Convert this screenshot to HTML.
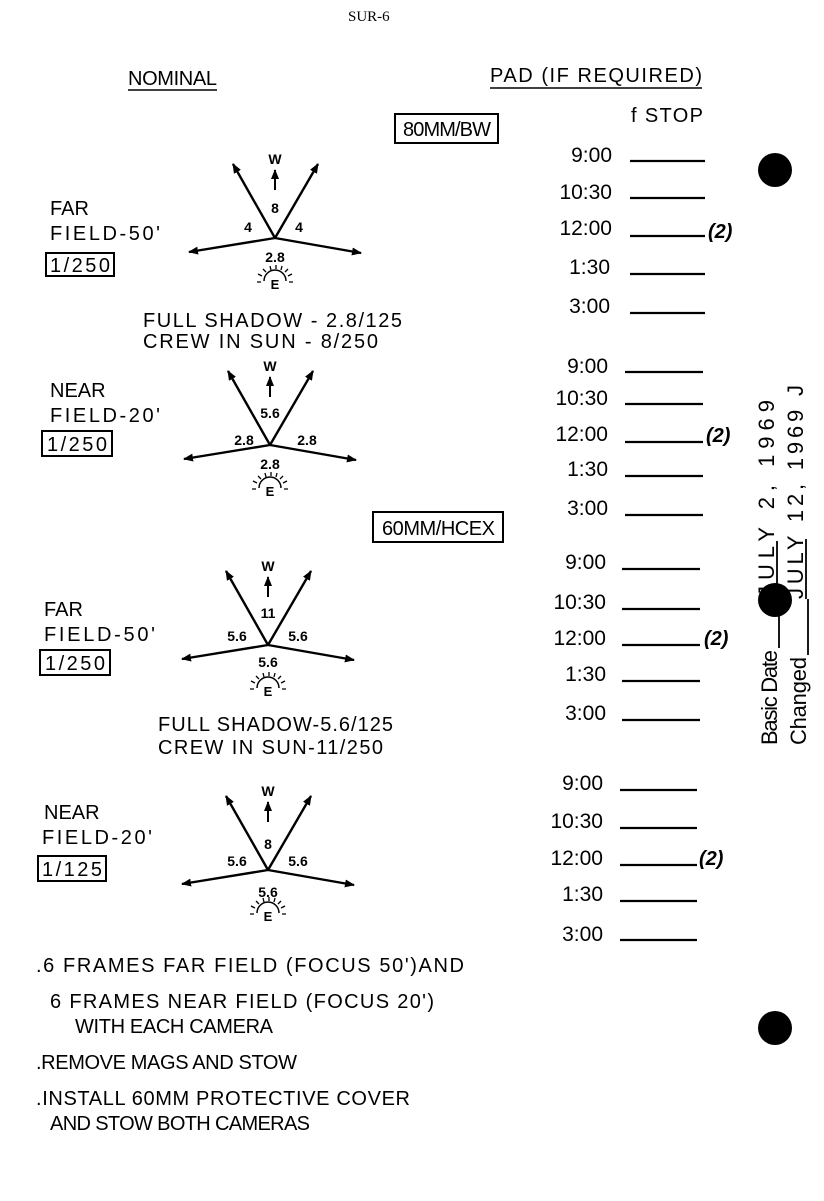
<!DOCTYPE html>
<html><head><meta charset="utf-8"><style>
html,body{margin:0;padding:0;background:#fff}
svg{display:block}
text{font-family:"Liberation Sans",sans-serif;fill:#000}
.t{font-size:20px}
.n{font-size:14px;font-weight:bold;text-anchor:middle}
.tm{font-size:21px;text-anchor:end}
.p{font-size:20px;font-weight:bold;font-style:italic}
</style></head><body>
<svg width="824" height="1201" viewBox="0 0 824 1201" xmlns="http://www.w3.org/2000/svg">
<defs>
<marker id="ah" markerWidth="10" markerHeight="8" refX="9" refY="4" orient="auto" markerUnits="userSpaceOnUse"><path d="M0,0 L10,4 L0,8 z" fill="#000"/></marker>
<g id="dia">
 <line x1="0" y1="0" x2="-42" y2="-74" stroke="#000" stroke-width="2.4" marker-end="url(#ah)"/>
 <line x1="0" y1="0" x2="43" y2="-74" stroke="#000" stroke-width="2.4" marker-end="url(#ah)"/>
 <line x1="0" y1="0" x2="-86" y2="14" stroke="#000" stroke-width="2.4" marker-end="url(#ah)"/>
 <line x1="0" y1="0" x2="86" y2="15" stroke="#000" stroke-width="2.4" marker-end="url(#ah)"/>
 <line x1="0" y1="-48" x2="0" y2="-68" stroke="#000" stroke-width="2" marker-end="url(#ah)"/>
 <text class="n" x="0" y="-74">W</text>
 <text class="n" x="0" y="51" style="font-size:13px">E</text>
 <path d="M-11,43 A11,11 0 0 1 11,43" fill="none" stroke="#000" stroke-width="1.5"/>
 <path d="M-14,44 l-4,0 M-13,38 l-4,-2 M-9,34 l-3,-3 M-4,32 l-1,-4 M1,31 l0,-4 M6,32 l1,-4 M10,34 l3,-3 M13,38 l4,-2 M14,44 l4,0" stroke="#000" stroke-width="1.3"/>
</g>
</defs>

<text x="348" y="21" style="font-family:'Liberation Serif',serif;font-size:15px">SUR-6</text>
<text class="t" x="128" y="85" textLength="89">NOMINAL</text>
<line x1="128" y1="90" x2="217" y2="90" stroke="#000" stroke-width="1.5"/>
<text class="t" x="490" y="82" textLength="212">PAD (IF REQUIRED)</text>
<line x1="490" y1="88" x2="702" y2="88" stroke="#000" stroke-width="1.5"/>
<text class="t" x="631" y="122" textLength="72">f STOP</text>

<rect x="395" y="114" width="103" height="29" fill="none" stroke="#000" stroke-width="2"/>
<text class="t" x="403" y="136" textLength="88">80MM/BW</text>
<rect x="373" y="512" width="130" height="30" fill="none" stroke="#000" stroke-width="2"/>
<text class="t" x="382" y="535" textLength="113">60MM/HCEX</text>

<g transform="translate(275,238)"><use href="#dia"/>
<text class="n" x="0" y="-25">8</text><text class="n" x="-27" y="-6">4</text><text class="n" x="24" y="-6">4</text><text class="n" x="0" y="24">2.8</text></g>
<text class="t" x="50" y="215">FAR</text>
<text class="t" x="50" y="240" textLength="110">FIELD-50'</text>
<rect x="46" y="253" width="68" height="23" fill="none" stroke="#000" stroke-width="2"/>
<text class="t" x="50" y="272" textLength="60">1/250</text>
<text class="t" x="143" y="327" textLength="259">FULL SHADOW - 2.8/125</text>
<text class="t" x="143" y="348" textLength="235">CREW IN SUN - 8/250</text>

<g transform="translate(270,445)"><use href="#dia"/>
<text class="n" x="0" y="-27">5.6</text><text class="n" x="-26" y="0">2.8</text><text class="n" x="37" y="0">2.8</text><text class="n" x="0" y="24">2.8</text></g>
<text class="t" x="50" y="397">NEAR</text>
<text class="t" x="50" y="422" textLength="110">FIELD-20'</text>
<rect x="42" y="431" width="70" height="25" fill="none" stroke="#000" stroke-width="2"/>
<text class="t" x="47" y="451" textLength="60">1/250</text>

<g transform="translate(268,645)"><use href="#dia"/>
<text class="n" x="0" y="-27">11</text><text class="n" x="-31" y="-4">5.6</text><text class="n" x="30" y="-4">5.6</text><text class="n" x="0" y="22">5.6</text></g>
<text class="t" x="44" y="616">FAR</text>
<text class="t" x="44" y="641" textLength="111">FIELD-50'</text>
<rect x="40" y="650" width="70" height="25" fill="none" stroke="#000" stroke-width="2"/>
<text class="t" x="45" y="670" textLength="60">1/250</text>
<text class="t" x="158" y="731" textLength="235">FULL SHADOW-5.6/125</text>
<text class="t" x="158" y="754" textLength="225">CREW IN SUN-11/250</text>

<g transform="translate(268,870)"><use href="#dia"/>
<text class="n" x="0" y="-21">8</text><text class="n" x="-31" y="-4">5.6</text><text class="n" x="30" y="-4">5.6</text><text class="n" x="0" y="27">5.6</text></g>
<text class="t" x="44" y="819">NEAR</text>
<text class="t" x="42" y="844" textLength="110">FIELD-20'</text>
<rect x="38" y="856" width="68" height="25" fill="none" stroke="#000" stroke-width="2"/>
<text class="t" x="42" y="876" textLength="60">1/125</text>

<text class="t" x="36" y="972" textLength="428">.6 FRAMES FAR FIELD (FOCUS 50')AND</text>
<text class="t" x="50" y="1008" textLength="384">6 FRAMES NEAR FIELD (FOCUS 20')</text>
<text class="t" x="75" y="1033" textLength="198">WITH EACH CAMERA</text>
<text class="t" x="36" y="1069" textLength="261">.REMOVE MAGS AND STOW</text>
<text class="t" x="36" y="1105" textLength="374">.INSTALL 60MM PROTECTIVE COVER</text>
<text class="t" x="50" y="1130" textLength="260">AND STOW BOTH CAMERAS</text>

<g stroke="#000" stroke-width="2.2">
<line x1="630" y1="161" x2="705" y2="161"/><line x1="630" y1="198" x2="705" y2="198"/><line x1="630" y1="236" x2="705" y2="236"/><line x1="630" y1="274" x2="705" y2="274"/><line x1="630" y1="313" x2="705" y2="313"/>
<line x1="625" y1="372" x2="703" y2="372"/><line x1="625" y1="404" x2="703" y2="404"/><line x1="625" y1="442" x2="703" y2="442"/><line x1="625" y1="476" x2="703" y2="476"/><line x1="625" y1="515" x2="703" y2="515"/>
<line x1="622" y1="569" x2="700" y2="569"/><line x1="622" y1="609" x2="700" y2="609"/><line x1="622" y1="645" x2="700" y2="645"/><line x1="622" y1="681" x2="700" y2="681"/><line x1="622" y1="720" x2="700" y2="720"/>
<line x1="620" y1="790" x2="697" y2="790"/><line x1="620" y1="828" x2="697" y2="828"/><line x1="620" y1="865" x2="697" y2="865"/><line x1="620" y1="901" x2="697" y2="901"/><line x1="620" y1="940" x2="697" y2="940"/>
</g>
<text class="tm" x="612" y="162">9:00</text><text class="tm" x="612" y="199">10:30</text><text class="tm" x="612" y="235">12:00</text><text class="tm" x="610" y="274">1:30</text><text class="tm" x="610" y="313">3:00</text>
<text class="tm" x="608" y="373">9:00</text><text class="tm" x="608" y="405">10:30</text><text class="tm" x="608" y="441">12:00</text><text class="tm" x="608" y="476">1:30</text><text class="tm" x="608" y="515">3:00</text>
<text class="tm" x="606" y="569">9:00</text><text class="tm" x="606" y="609">10:30</text><text class="tm" x="606" y="645">12:00</text><text class="tm" x="606" y="681">1:30</text><text class="tm" x="606" y="720">3:00</text>
<text class="tm" x="603" y="790">9:00</text><text class="tm" x="603" y="828">10:30</text><text class="tm" x="603" y="865">12:00</text><text class="tm" x="603" y="901">1:30</text><text class="tm" x="603" y="941">3:00</text>
<text class="p" x="708" y="238">(2)</text>
<text class="p" x="706" y="442">(2)</text>
<text class="p" x="704" y="645">(2)</text>
<text class="p" x="699" y="865">(2)</text>

<circle cx="775" cy="170" r="17" fill="#000"/>
<circle cx="775" cy="600" r="17" fill="#000"/>
<circle cx="775" cy="1028" r="17" fill="#000"/>

<g transform="translate(777,745) rotate(-90)">
<text x="0" y="0" style="font-size:22px" textLength="95">Basic Date</text>
<line x1="97" y1="2" x2="148" y2="2" stroke="#000" stroke-width="1.8"/>
<text x="148" y="-3" style="font-size:22px" textLength="197">JULY 2, 1969</text>
<line x1="148" y1="0" x2="204" y2="0" stroke="#000" stroke-width="1.8"/>
</g>
<g transform="translate(806,745) rotate(-90)">
<text x="0" y="0" style="font-size:22px" textLength="88">Changed</text>
<line x1="90" y1="2" x2="146" y2="2" stroke="#000" stroke-width="1.8"/>
<text x="146" y="-3" style="font-size:22px" textLength="214">JULY 12, 1969  J</text>
<line x1="146" y1="0" x2="206" y2="0" stroke="#000" stroke-width="1.8"/>
</g>
</svg>
</body></html>
